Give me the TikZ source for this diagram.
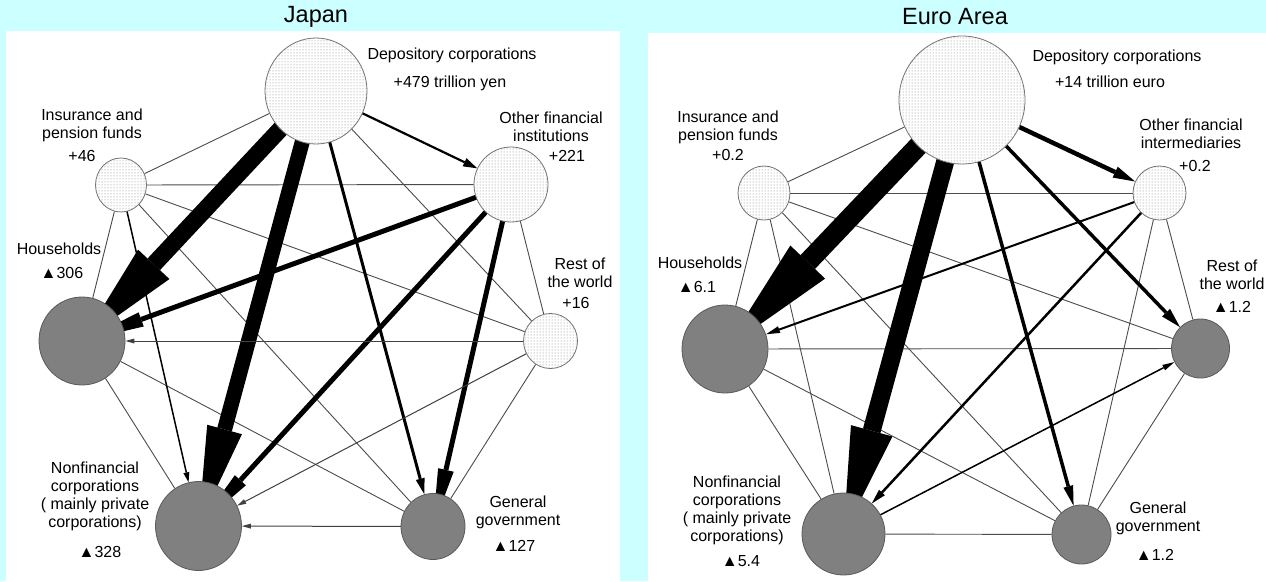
\documentclass[tikz,border=0pt]{standalone}
\usepackage{fontspec}
\setmainfont{Liberation Sans}
\usetikzlibrary{shapes.geometric,arrows.meta,patterns}

\definecolor{skyback}{RGB}{204,255,255}
\definecolor{sectorgray}{RGB}{128,128,128}

\pgfdeclarelayer{bg}
\pgfdeclarelayer{edges}
\pgfsetlayers{bg,edges,main}

\begin{document}
\begin{tikzpicture}[x=1pt, y=-1pt,
    fin/.style={ellipse, draw=black!55, line width=0.8pt, inner sep=0pt,
                preaction={fill=white}, pattern=dots, pattern color=black!50},
    nonfin/.style={ellipse, draw=black!65, line width=0.8pt, inner sep=0pt, fill=sectorgray},
    lbl/.style={font=\fontsize{16}{18}\selectfont, align=center, inner sep=0pt},
    link/.style={draw=black!70, line width=0.9pt},
    flow/.style n args={3}{draw=black, line width=#1,
                -{Triangle[length=#2, width=#3, line width=0pt]}}]

\useasboundingbox (0,0) rectangle (1266,581);
\begin{pgfonlayer}{bg}
\fill [skyback] (0,0) rectangle (1266,581);
\fill [white] (6,31) rectangle (620,581);
\fill [white] (648,33) rectangle (1266,581);
\end{pgfonlayer}

\node [font=\fontsize{23.5}{26}\selectfont] (jtitle) at (316,17) {Japan};
\node [font=\fontsize{23.5}{26}\selectfont] (etitle) at (955,17) {Euro Area};

% Japan
\node [fin, minimum width=102pt, minimum height=106pt] (jdep) at (316,91) {};
\node [fin, minimum width=51pt, minimum height=54pt] (jins) at (121,185) {};
\node [fin, minimum width=74pt, minimum height=75pt] (joth) at (511,184.5) {};
\node [nonfin, minimum width=86pt, minimum height=88pt] (jhh) at (82,341) {};
\node [fin, minimum width=54pt, minimum height=55pt] (jrow) at (550.5,341) {};
\node [nonfin, minimum width=86pt, minimum height=89pt] (jnfc) at (198.5,526) {};
\node [nonfin, minimum width=64pt, minimum height=66pt] (jgov) at (433,526.5) {};

\node [lbl] (jdeplab) at (452,55) {Depository corporations};
\node [lbl] (jdepval) at (450,83) {+479 trillion yen};
\node [lbl] (jinslab) at (92,125) {Insurance and\\pension funds};
\node [lbl] (jinsval) at (82,156) {+46};
\node [lbl] (jothlab) at (551,127) {Other financial\\institutions};
\node [lbl] (jothval) at (567,156) {+221};
\node [lbl] (jhhlab) at (59,249) {Households};
\node [lbl] (jhhval) at (62,273) {▲306};
\node [lbl] (jrowlab) at (580,273) {Rest of\\the world};
\node [lbl] (jrowval) at (576,303) {+16};
\node [lbl] (jnfclab) at (95,496) {Nonfinancial\\corporations\\( mainly private\\corporations)};
\node [lbl] (jnfcval) at (100,552) {▲328};
\node [lbl] (jgovlab) at (518,512) {General\\government};
\node [lbl] (jgovval) at (514,546) {▲127};

\begin{pgfonlayer}{edges}
\draw [link] (jdep) -- (jins);
\draw [link] (jdep) -- (jrow);
\draw [link] (jins) -- (joth);
\draw [link] (jins) -- (jhh);
\draw [link] (jins) -- (jgov);
\draw [link] (jins) -- (jrow);
\draw [link] (joth) -- (jrow);
\draw [link] (jhh) -- (jnfc);
\draw [link] (jhh) -- (jgov);
\draw [link] (jrow) -- (jgov);

\draw [flow={17pt}{105pt}{43pt}] (jdep.center) -- (jhh.center);
\draw [flow={15pt}{100pt}{36pt}] (jdep.center) -- (jnfc.center);
\draw [flow={5pt}{63pt}{15pt}] (joth.center) -- (jhh.center);
\draw [flow={5pt}{62pt}{15pt}] (joth.center) -- (jnfc.center);
\draw [flow={5pt}{58pt}{16pt}] (joth.center) -- (jgov.center);
\draw [flow={3pt}{16pt}{9pt}] (jdep.center) -- (jgov);
\draw [flow={2.2pt}{14pt}{9pt}] (jdep.center) -- (joth);
\draw [flow={1.5pt}{10pt}{6pt}] (jins.center) -- (jnfc);
\draw [flow={1pt}{9pt}{5pt}, draw=black!75] (jrow.center) -- (jhh);
\draw [flow={1pt}{9pt}{5pt}, draw=black!75] (jrow.center) -- (jnfc);
\draw [flow={1pt}{9pt}{5pt}, draw=black!75] (jgov.center) -- (jnfc);
\end{pgfonlayer}

% Euro Area
\node [fin, minimum width=126pt, minimum height=128pt] (edep) at (962,100) {};
\node [fin, minimum width=52pt, minimum height=54pt] (eins) at (764,193) {};
\node [fin, minimum width=53pt, minimum height=54pt] (eoth) at (1159.5,193) {};
\node [nonfin, minimum width=86pt, minimum height=88pt] (ehh) at (725,349) {};
\node [nonfin, minimum width=58pt, minimum height=59pt] (erow) at (1200.5,348.5) {};
\node [nonfin, minimum width=83pt, minimum height=82pt] (enfc) at (843.5,534) {};
\node [nonfin, minimum width=59pt, minimum height=59pt] (egov) at (1081.5,534.5) {};

\node [lbl] (edeplab) at (1117,57) {Depository corporations};
\node [lbl] (edepval) at (1110,82) {+14 trillion euro};
\node [lbl] (einslab) at (728,127.5) {Insurance and\\pension funds};
\node [lbl] (einsval) at (728,155) {+0.2};
\node [lbl] (eothlab) at (1191,134) {Other financial\\intermediaries};
\node [lbl] (eothval) at (1195,166) {+0.2};
\node [lbl] (ehhlab) at (700,263) {Households};
\node [lbl] (ehhval) at (697,287) {▲6.1};
\node [lbl] (erowlab) at (1232,274.5) {Rest of\\the world};
\node [lbl] (erowval) at (1232,307) {▲1.2};
\node [lbl] (enfclab) at (737,510) {Nonfinancial\\corporations\\( mainly private\\corporations)};
\node [lbl] (enfcval) at (741,561) {▲5.4};
\node [lbl] (egovlab) at (1158,518) {General\\government};
\node [lbl] (egovval) at (1155,555) {▲1.2};

\begin{pgfonlayer}{edges}
\draw [link] (edep) -- (eins);
\draw [link] (eins) -- (eoth);
\draw [link] (eins) -- (ehh);
\draw [link] (eins) -- (enfc);
\draw [link] (eins) -- (egov);
\draw [link] (eins) -- (erow);
\draw [link] (eoth) -- (egov);
\draw [link] (eoth) -- (erow);
\draw [link] (ehh) -- (erow);
\draw [link] (ehh) -- (enfc);
\draw [link] (ehh) -- (egov);
\draw [link] (enfc) -- (egov);
\draw [link] (egov) -- (erow);

\draw [flow={20pt}{120pt}{48pt}] (edep.center) -- (ehh.center);
\draw [flow={18pt}{107pt}{43pt}] (edep.center) -- (enfc.center);
\draw [flow={4.5pt}{22pt}{12pt}] (edep.center) -- (eoth);
\draw [flow={3.5pt}{20pt}{11pt}] (edep.center) -- (erow);
\draw [flow={3.5pt}{20pt}{10pt}] (edep.center) -- (egov);
\draw [flow={2pt}{14pt}{7pt}] (eoth.center) -- (ehh);
\draw [flow={2.5pt}{15pt}{8pt}] (eoth.center) -- (enfc);
\draw [flow={1.5pt}{12pt}{6pt}] (enfc.center) -- (erow);
\end{pgfonlayer}

\end{tikzpicture}
\end{document}
